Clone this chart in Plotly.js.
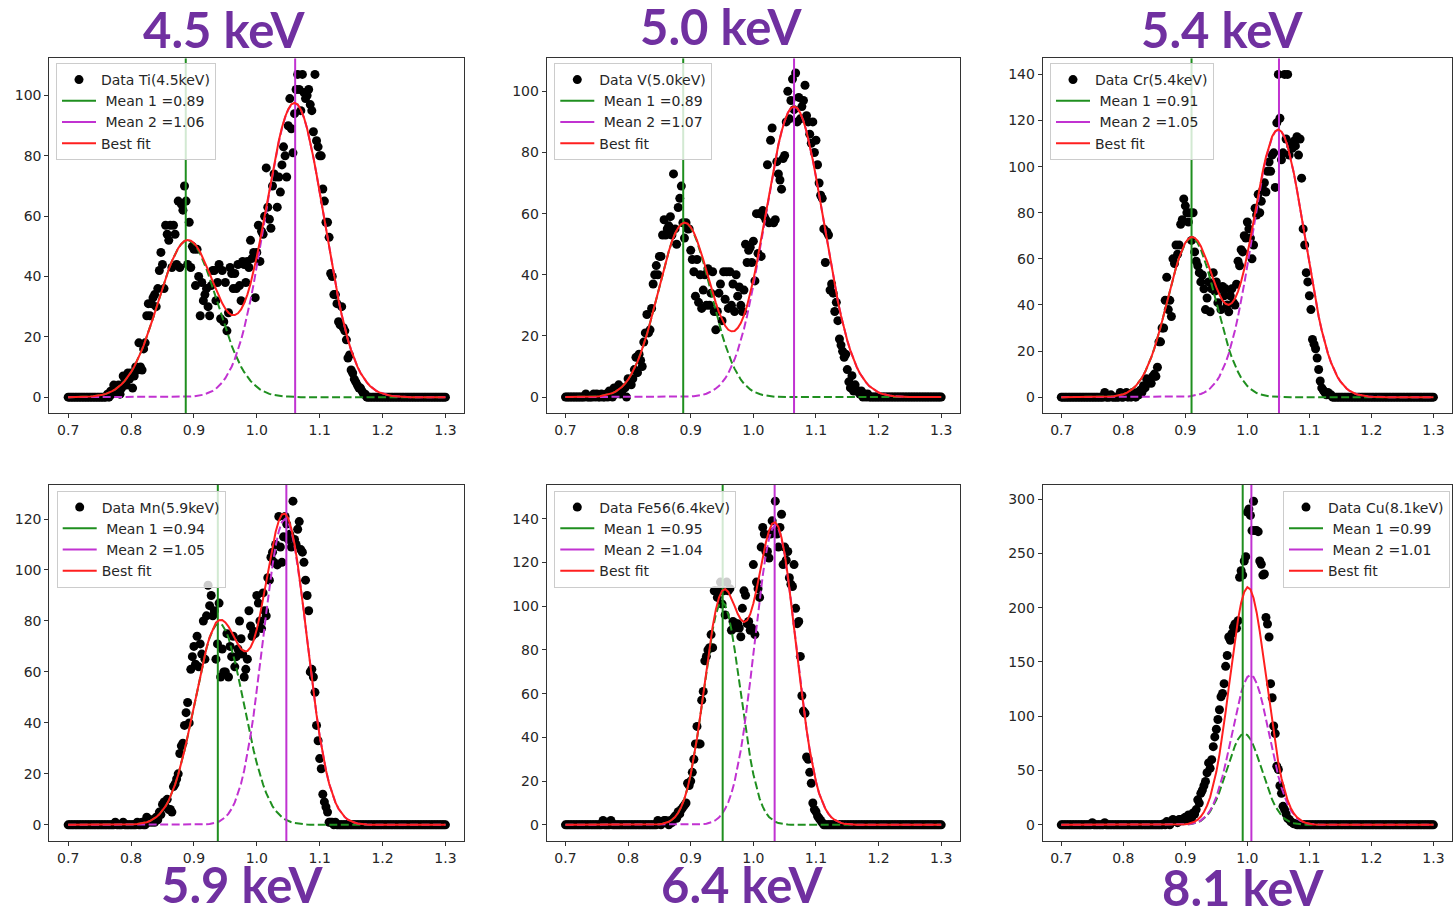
<!DOCTYPE html>
<html>
<head>
<meta charset="utf-8">
<script src="https://cdn.plot.ly/plotly-3.0.1.min.js"></script>
<style>html,body{margin:0;padding:0;background:#fff}#chart{width:1453px;height:909px}</style>
</head>
<body>
<div id="chart"></div>
<script>
// ---------- DATA ----------
const energyBins = [
0.7,0.7025,0.705,0.7075,0.71,0.7125,0.715,0.7175,0.72,0.7225,0.725,0.7275,0.73,0.7325,0.735,0.7375,0.74,0.7425,0.745,0.7475,
0.75,0.7525,0.755,0.7575,0.76,0.7625,0.765,0.7675,0.77,0.7725,0.775,0.7775,0.78,0.7825,0.785,0.7875,0.79,0.7925,0.795,0.7975,
0.8,0.8025,0.805,0.8075,0.81,0.8125,0.815,0.8175,0.82,0.8225,0.825,0.8275,0.83,0.8325,0.835,0.8375,0.84,0.8425,0.845,0.8475,
0.85,0.8525,0.855,0.8575,0.86,0.8625,0.865,0.8675,0.87,0.8725,0.875,0.8775,0.88,0.8825,0.885,0.8875,0.89,0.8925,0.895,0.8975,
0.9,0.9025,0.905,0.9075,0.91,0.9125,0.915,0.9175,0.92,0.9225,0.925,0.9275,0.93,0.9325,0.935,0.9375,0.94,0.9425,0.945,0.9475,
0.95,0.9525,0.955,0.9575,0.96,0.9625,0.965,0.9675,0.97,0.9725,0.975,0.9775,0.98,0.9825,0.985,0.9875,0.99,0.9925,0.995,0.9975,
1,1.0025,1.005,1.0075,1.01,1.0125,1.015,1.0175,1.02,1.0225,1.025,1.0275,1.03,1.0325,1.035,1.0375,1.04,1.0425,1.045,1.0475,
1.05,1.0525,1.055,1.0575,1.06,1.0625,1.065,1.0675,1.07,1.0725,1.075,1.0775,1.08,1.0825,1.085,1.0875,1.09,1.0925,1.095,1.0975,
1.1,1.1025,1.105,1.1075,1.11,1.1125,1.115,1.1175,1.12,1.1225,1.125,1.1275,1.13,1.1325,1.135,1.1375,1.14,1.1425,1.145,1.1475,
1.15,1.1525,1.155,1.1575,1.16,1.1625,1.165,1.1675,1.17,1.1725,1.175,1.1775,1.18,1.1825,1.185,1.1875,1.19,1.1925,1.195,1.1975,
1.2,1.2025,1.205,1.2075,1.21,1.2125,1.215,1.2175,1.22,1.2225,1.225,1.2275,1.23,1.2325,1.235,1.2375,1.24,1.2425,1.245,1.2475,
1.25,1.2525,1.255,1.2575,1.26,1.2625,1.265,1.2675,1.27,1.2725,1.275,1.2775,1.28,1.2825,1.285,1.2875,1.29,1.2925,1.295,1.2975,
1.3];

const fitEnergy = [
0.7,0.705,0.71,0.715,0.72,0.725,0.73,0.735,0.74,0.745,
0.75,0.755,0.76,0.765,0.77,0.775,0.78,0.785,0.79,0.795,
0.8,0.805,0.81,0.815,0.82,0.825,0.83,0.835,0.84,0.845,
0.85,0.855,0.86,0.865,0.87,0.875,0.88,0.885,0.89,0.895,
0.9,0.905,0.91,0.915,0.92,0.925,0.93,0.935,0.94,0.945,
0.95,0.955,0.96,0.965,0.97,0.975,0.98,0.985,0.99,0.995,
1,1.005,1.01,1.015,1.02,1.025,1.03,1.035,1.04,1.045,
1.05,1.055,1.06,1.065,1.07,1.075,1.08,1.085,1.09,1.095,
1.1,1.105,1.11,1.115,1.12,1.125,1.13,1.135,1.14,1.145,
1.15,1.155,1.16,1.165,1.17,1.175,1.18,1.185,1.19,1.195,
1.2,1.205,1.21,1.215,1.22,1.225,1.23,1.235,1.24,1.245,
1.25,1.255,1.26,1.265,1.27,1.275,1.28,1.285,1.29,1.295,
1.3];

// measured counts (one per energy bin)
const countsTi = [
0,0,0,0,0,0,0,0,0,0,0,0,0,0,0,0,0,0,0,0,
0,0,0,0,0,1,0,2,1,4,3,2,4,1,3,7,5,4,8,6,
8,3,7,10,9,18,10,9,16,18,27,31,27,31,33,34,30,36,42,48,
44,36,57,54,52,57,43,57,54,44,65,43,64,62,70,65,44,58,43,50,
49,37,49,40,27,38,32,34,36,30,27,37,42,42,32,38,44,26,42,25,
38,22,28,43,41,36,41,36,44,37,32,45,44,38,45,43,52,46,48,33,
48,57,45,55,54,60,76,63,59,56,70,74,73,63,73,68,77,83,80,73,
90,99,89,81,94,102,107,102,95,107,101,99,100,102,97,95,88,107,85,83,
80,80,69,65,58,58,53,41,40,34,34,31,25,24,30,23,22,19,13,14,
9,8,6,5,4,3,3,2,1,1,0,0,0,0,0,0,0,0,0,0,
0,0,0,0,0,0,0,0,0,0,0,0,0,0,0,0,0,0,0,0,
0,0,0,0,0,0,0,0,0,0,0,0,0,0,0,0,0,0,0,0,
0];
const countsV = [
0,0,0,0,0,0,0,0,0,0,0,0,0,1,0,0,0,0,1,0,
1,0,0,1,0,0,1,0,2,1,0,3,1,2,4,1,2,3,3,0,
6,5,4,6,9,13,8,14,12,10,18,21,27,21,22,29,37,40,43,40,
46,46,53,58,53,55,56,59,53,73,55,50,62,65,69,57,52,57,55,55,
48,45,41,33,45,31,40,29,35,40,30,42,30,34,41,28,22,28,34,37,
25,41,32,41,29,41,30,37,28,40,33,36,30,28,35,50,44,48,49,44,
51,38,60,47,60,46,61,59,58,76,57,84,88,57,58,77,73,71,68,78,
79,90,100,91,97,104,94,106,90,98,91,95,97,102,92,90,86,83,90,80,
84,76,70,66,65,55,44,54,53,35,37,34,28,31,25,19,17,15,13,14,
9,5,3,7,2,4,2,2,1,2,0,1,0,1,0,0,0,0,0,0,
0,0,0,0,0,0,0,0,0,0,0,0,0,0,0,0,0,0,0,0,
0,0,0,0,0,0,0,0,0,0,0,0,0,0,0,0,0,0,0,0,
0];
const countsCr = [
0,0,0,0,0,0,0,0,0,0,0,0,0,0,0,0,0,0,0,0,
0,0,0,0,0,0,0,0,2,0,0,0,1,0,0,0,0,0,2,0,
0,1,2,0,1,0,2,1,0,2,1,3,2,5,4,8,6,7,6,9,
10,9,13,24,24,30,30,42,52,38,42,35,60,58,66,62,66,75,77,86,
83,80,76,80,68,80,63,59,57,54,50,53,47,38,43,50,37,47,54,46,
50,41,47,38,48,44,47,40,37,44,47,41,40,49,59,57,64,63,70,69,
76,73,69,60,66,82,79,88,80,85,90,93,89,98,102,98,105,106,91,119,
140,121,103,106,140,112,140,105,109,108,111,109,113,105,112,95,73,66,54,50,
44,38,25,23,21,17,12,7,4,3,2,1,2,1,1,0,0,0,0,0,
0,0,0,0,0,0,0,0,0,0,0,0,0,0,0,0,0,0,0,0,
0,0,0,0,0,0,0,0,0,0,0,0,0,0,0,0,0,0,0,0,
0,0,0,0,0,0,0,0,0,0,0,0,0,0,0,0,0,0,0,0,
0];
const countsMn = [
0,0,0,0,0,0,0,0,0,0,0,0,0,0,0,0,0,0,0,0,
0,0,0,0,0,0,0,0,0,0,1,0,0,0,0,1,0,0,0,0,
0,0,0,0,1,0,0,1,0,0,3,1,2,1,2,1,3,2,5,4,
8,9,7,10,6,6,5,15,16,18,20,28,31,32,39,44,48,40,61,66,
70,63,74,62,71,67,80,65,82,94,86,90,82,84,65,71,87,58,69,60,
60,75,58,70,66,74,62,66,69,80,73,67,58,61,65,84,78,74,76,75,
90,87,80,77,91,84,82,97,96,105,107,103,110,102,121,109,103,113,121,118,
112,114,109,127,112,110,116,119,108,107,103,96,90,84,60,61,58,52,39,33,
26,22,12,9,7,5,1,1,1,0,1,0,0,0,0,0,0,0,0,0,
0,0,0,0,0,0,0,0,0,0,0,0,0,0,0,0,0,0,0,0,
0,0,0,0,0,0,0,0,0,0,0,0,0,0,0,0,0,0,0,0,
0,0,0,0,0,0,0,0,0,0,0,0,0,0,0,0,0,0,0,0,
0];
const countsFe = [
0,0,0,0,0,0,0,0,0,0,0,0,0,0,0,0,0,0,0,0,
0,0,0,0,2,0,0,0,0,2,0,0,0,0,0,0,0,0,0,0,
0,0,0,0,0,0,0,0,0,0,0,0,0,0,0,0,0,0,0,2,
1,0,1,2,2,1,0,2,1,3,4,3,6,5,7,8,9,10,19,18,
20,24,30,37,45,37,37,57,61,75,77,80,81,87,81,107,107,104,107,111,
101,107,96,111,107,108,89,93,90,92,92,90,86,99,107,105,92,93,89,90,
119,87,111,108,104,127,136,133,125,125,122,133,139,134,148,133,127,136,142,119,
127,121,125,113,110,109,119,99,92,93,77,59,52,51,31,30,24,19,10,7,
6,4,3,2,1,0,0,0,0,0,0,0,0,0,0,0,0,0,0,0,
0,0,0,0,0,0,0,0,0,0,0,0,0,0,0,0,0,0,0,0,
0,0,0,0,0,0,0,0,0,0,0,0,0,0,0,0,0,0,0,0,
0,0,0,0,0,0,0,0,0,0,0,0,0,0,0,0,0,0,0,0,
0];
const countsCu = [
0,0,0,0,0,0,0,0,0,0,0,0,0,0,0,0,0,0,0,0,
2,0,0,0,0,0,0,0,2,0,0,0,0,0,0,0,0,0,0,0,
0,0,0,0,0,0,0,0,0,0,0,0,0,0,0,0,0,0,0,0,
0,0,0,0,0,0,1,0,3,2,0,3,5,4,3,2,5,5,4,6,
7,5,9,8,6,11,10,14,23,20,29,32,36,40,48,57,52,60,72,81,
88,97,106,118,121,130,146,156,173,170,176,182,185,181,188,228,234,230,243,247,
288,291,285,271,298,271,271,270,243,240,230,231,191,185,173,130,117,91,84,54,
51,36,29,17,14,10,6,5,3,2,1,1,0,0,0,0,0,0,0,0,
0,0,0,0,0,0,0,0,0,0,0,0,0,0,0,0,0,0,0,0,
0,0,0,0,0,0,0,0,0,0,0,0,0,0,0,0,0,0,0,0,
0,0,0,0,0,0,0,0,0,0,0,0,0,0,0,0,0,0,0,0,
0,0,0,0,0,0,0,0,0,0,0,0,0,0,0,0,0,0,0,0,
0];

// fitted components (one per fitEnergy point)
const peak1Ti = [
0,0,0,0,0.1,0.1,0.2,0.2,0.3,0.4, 0.6,0.8,1.1,1.5,2,2.6,3.4,4.3,5.4,6.7,
8.3,10.1,12.2,14.6,17.1,20,23,26.2,29.5,32.9, 36.2,39.4,42.4,45.1,47.5,49.4,50.8,51.7,52,51.7,
50.8,49.4,47.5,45.1,42.4,39.4,36.2,32.9,29.5,26.2, 23,20,17.1,14.6,12.2,10.1,8.3,6.7,5.4,4.3,
3.4,2.6,2,1.5,1.1,0.8,0.6,0.4,0.3,0.2, 0.2,0.1,0.1,0,0,0,0,0,0,0,
0,0,0,0,0,0,0,0,0,0, 0,0,0,0,0,0,0,0,0,0, 0,0,0,0,0,0,0,0,0,0, 0,0,0,0,0,0,0,0,0,0, 0];
const peak2Ti = [
0,0,0,0,0,0,0,0,0,0, 0,0,0,0,0,0,0,0,0,0, 0,0,0,0,0,0,0,0,0,0,
0,0,0,0,0,0,0,0.1,0.1,0.2, 0.3,0.4,0.6,0.8,1.2,1.6,2.1,2.8,3.7,4.9,
6.3,8,10.1,12.6,15.6,19,22.9,27.3,32.2,37.5, 43.2,49.2,55.4,61.6,67.9,73.9,79.5,84.6,89.1,92.7,
95.3,97,97.5,97,95.3,92.7,89.1,84.6,79.5,73.9, 67.9,61.6,55.4,49.2,43.2,37.5,32.2,27.3,22.9,19,
15.6,12.6,10.1,8,6.3,4.9,3.7,2.8,2.1,1.6, 1.2,0.8,0.6,0.4,0.3,0.2,0.1,0.1,0,0,
0,0,0,0,0,0,0,0,0,0, 0];
const bestFitTi = [
0,0,0,0,0.1,0.1,0.2,0.2,0.3,0.4, 0.6,0.8,1.1,1.5,2,2.6,3.4,4.3,5.4,6.7,
8.3,10.1,12.2,14.6,17.1,20,23,26.2,29.5,32.9, 36.2,39.4,42.4,45.1,47.5,49.4,50.8,51.8,52.1,51.9,
51.1,49.8,48.1,45.9,43.6,41,38.3,35.7,33.2,31.1, 29.3,28,27.2,27.2,27.8,29.1,31.2,34,37.6,41.8,
46.6,51.8,57.4,63.1,69,74.7,80.1,85,89.4,92.9, 95.5,97.1,97.6,97,95.3,92.7,89.1,84.6,79.5,73.9,
67.9,61.6,55.4,49.2,43.2,37.5,32.2,27.3,22.9,19, 15.6,12.6,10.1,8,6.3,4.9,3.7,2.8,2.1,1.6,
1.2,0.8,0.6,0.4,0.3,0.2,0.1,0.1,0,0, 0,0,0,0,0,0,0,0,0,0, 0];

const peak1V = [
0,0,0,0,0,0,0,0,0.1,0.1, 0.2,0.3,0.5,0.7,1,1.3,1.8,2.5,3.3,4.4,
5.7,7.4,9.3,11.6,14.2,17.2,20.5,24.2,28.1,32.1, 36.2,40.3,44.2,47.7,50.9,53.5,55.4,56.6,57,56.6,
55.4,53.5,50.9,47.7,44.2,40.3,36.2,32.1,28.1,24.2, 20.5,17.2,14.2,11.6,9.3,7.4,5.7,4.4,3.3,2.5,
1.8,1.3,1,0.7,0.5,0.3,0.2,0.1,0.1,0, 0,0,0,0,0,0,0,0,0,0,
0,0,0,0,0,0,0,0,0,0, 0,0,0,0,0,0,0,0,0,0, 0,0,0,0,0,0,0,0,0,0, 0,0,0,0,0,0,0,0,0,0, 0];
const peak2V = [
0,0,0,0,0,0,0,0,0,0, 0,0,0,0,0,0,0,0,0,0, 0,0,0,0,0,0,0,0,0,0,
0,0,0,0,0,0,0,0,0.1,0.1, 0.2,0.3,0.4,0.6,0.8,1.1,1.5,2.1,2.8,3.6,
4.8,6.1,7.8,9.9,12.3,15.2,18.5,22.3,26.6,31.3, 36.5,42.1,47.9,53.9,60.1,66.1,72,77.5,82.5,86.8,
90.3,92.9,94.5,95,94.5,92.9,90.3,86.8,82.5,77.5, 72,66.1,60.1,53.9,47.9,42.1,36.5,31.3,26.6,22.3,
18.5,15.2,12.3,9.9,7.8,6.1,4.8,3.6,2.8,2.1, 1.5,1.1,0.8,0.6,0.4,0.3,0.2,0.1,0.1,0,
0,0,0,0,0,0,0,0,0,0, 0];
const bestFitV = [
0,0,0,0,0,0,0,0,0.1,0.1, 0.2,0.3,0.5,0.7,1,1.3,1.8,2.5,3.3,4.4,
5.7,7.4,9.3,11.6,14.2,17.2,20.5,24.2,28.1,32.1, 36.2,40.3,44.2,47.7,50.9,53.5,55.4,56.6,57.1,56.7,
55.6,53.8,51.3,48.3,45,41.4,37.7,34.2,30.9,27.8, 25.3,23.3,22,21.5,21.6,22.6,24.2,26.7,29.9,33.8,
38.3,43.4,48.9,54.6,60.6,66.4,72.2,77.6,82.6,86.8, 90.3,92.9,94.5,95,94.5,92.9,90.3,86.8,82.5,77.5,
72,66.1,60.1,53.9,47.9,42.1,36.5,31.3,26.6,22.3, 18.5,15.2,12.3,9.9,7.8,6.1,4.8,3.6,2.8,2.1,
1.5,1.1,0.8,0.6,0.4,0.3,0.2,0.1,0.1,0, 0,0,0,0,0,0,0,0,0,0, 0];

const peak1Cr = [
0,0,0,0,0,0,0,0,0,0, 0,0,0,0,0.1,0.2,0.3,0.4,0.6,0.9,
1.3,1.8,2.6,3.6,4.8,6.4,8.4,10.9,13.8,17.2, 21.1,25.5,30.3,35.5,40.8,46.1,51.3,56.2,60.5,64.1,
66.8,68.4,69,68.4,66.8,64.1,60.5,56.2,51.3,46.1, 40.8,35.5,30.3,25.5,21.1,17.2,13.8,10.9,8.4,6.4,
4.8,3.6,2.6,1.8,1.3,0.9,0.6,0.4,0.3,0.2, 0.1,0,0,0,0,0,0,0,0,0,
0,0,0,0,0,0,0,0,0,0, 0,0,0,0,0,0,0,0,0,0, 0,0,0,0,0,0,0,0,0,0, 0,0,0,0,0,0,0,0,0,0, 0];
const peak2Cr = [
0,0,0,0,0,0,0,0,0,0, 0,0,0,0,0,0,0,0,0,0, 0,0,0,0,0,0,0,0,0,0,
0,0,0,0,0,0,0,0,0.1,0.1, 0.2,0.3,0.5,0.7,1,1.4,2,2.7,3.8,5.1,
6.8,9,11.7,15,18.9,23.6,28.9,35,41.8,49.2, 57.1,65.3,73.7,82,89.9,97.2,103.6,108.8,112.8,115.2,
116,115.2,112.8,108.8,103.6,97.2,89.9,82,73.7,65.3, 57.1,49.2,41.8,35,28.9,23.6,18.9,15,11.7,9,
6.8,5.1,3.8,2.7,2,1.4,1,0.7,0.5,0.3, 0.2,0.1,0.1,0,0,0,0,0,0,0,
0,0,0,0,0,0,0,0,0,0, 0];
const bestFitCr = [
0,0,0,0,0,0,0,0,0,0, 0,0,0,0,0.1,0.2,0.3,0.4,0.6,0.9,
1.3,1.8,2.6,3.6,4.8,6.4,8.4,10.9,13.8,17.2, 21.1,25.5,30.3,35.5,40.8,46.1,51.3,56.2,60.6,64.2,
67,68.7,69.5,69.1,67.8,65.5,62.5,58.9,55.1,51.2, 47.6,44.5,42,40.5,40,40.8,42.7,45.9,50.2,55.6,
61.9,68.9,76.3,83.8,91.2,98.1,104.2,109.2,113.1,115.4, 116.1,115.2,112.8,108.8,103.6,97.2,89.9,82,73.7,65.3,
57.1,49.2,41.8,35,28.9,23.6,18.9,15,11.7,9, 6.8,5.1,3.8,2.7,2,1.4,1,0.7,0.5,0.3,
0.2,0.1,0.1,0,0,0,0,0,0,0, 0,0,0,0,0,0,0,0,0,0, 0];

const peak1Mn = [
0,0,0,0,0,0,0,0,0,0, 0,0,0,0,0,0,0,0,0,0,
0.1,0.2,0.3,0.5,0.7,1,1.5,2.1,3,4.1, 5.5,7.3,9.6,12.4,15.8,19.7,24.2,29.2,34.7,40.6,
46.7,52.8,58.8,64.3,69.3,73.4,76.4,78.4,79,78.4, 76.4,73.4,69.3,64.3,58.8,52.8,46.7,40.6,34.7,29.2,
24.2,19.7,15.8,12.4,9.6,7.3,5.5,4.1,3,2.1, 1.5,1,0.7,0.5,0.3,0.2,0.1,0,0,0,
0,0,0,0,0,0,0,0,0,0, 0,0,0,0,0,0,0,0,0,0, 0,0,0,0,0,0,0,0,0,0, 0,0,0,0,0,0,0,0,0,0, 0];
const peak2Mn = [
0,0,0,0,0,0,0,0,0,0, 0,0,0,0,0,0,0,0,0,0, 0,0,0,0,0,0,0,0,0,0, 0,0,0,0,0,0,0,0,0,0,
0,0,0,0.1,0.2,0.3,0.5,0.9,1.3,2, 3,4.4,6.3,8.8,12.1,16.2,21.4,27.6,34.9,43.2,
52.5,62.5,72.8,83.1,93,101.9,109.5,115.2,118.8,120, 118.8,115.2,109.5,101.9,93,83.1,72.8,62.5,52.5,43.2,
34.9,27.6,21.4,16.2,12.1,8.8,6.3,4.4,3,2, 1.3,0.9,0.5,0.3,0.2,0.1,0,0,0,0,
0,0,0,0,0,0,0,0,0,0, 0,0,0,0,0,0,0,0,0,0, 0];
const bestFitMn = [
0,0,0,0,0,0,0,0,0,0, 0,0,0,0,0,0,0,0,0,0,
0.1,0.2,0.3,0.5,0.7,1,1.5,2.1,3,4.1, 5.5,7.3,9.6,12.4,15.8,19.7,24.2,29.2,34.7,40.6,
46.7,52.8,58.8,64.4,69.5,73.7,76.9,79.3,80.3,80.4, 79.4,77.8,75.6,73.1,70.9,69,68.1,68.2,69.6,72.4,
76.7,82.2,88.6,95.5,102.6,109.2,115,119.3,121.8,122.1, 120.3,116.2,110.2,102.4,93.3,83.3,72.9,62.5,52.5,43.2,
34.9,27.6,21.4,16.2,12.1,8.8,6.3,4.4,3,2, 1.3,0.9,0.5,0.3,0.2,0.1,0,0,0,0,
0,0,0,0,0,0,0,0,0,0, 0,0,0,0,0,0,0,0,0,0, 0];

const peak1Fe = [
0,0,0,0,0,0,0,0,0,0, 0,0,0,0,0,0,0,0,0,0,
0,0,0,0,0,0,0,0,0,0.1, 0.3,0.5,0.8,1.4,2.3,3.6,5.5,8.3,12,16.9,
23.1,30.6,39.4,49.2,59.7,70.3,80.4,89.2,96.1,100.5, 102,100.5,96.1,89.2,80.4,70.3,59.7,49.2,39.4,30.6,
23.1,16.9,12,8.3,5.5,3.6,2.3,1.4,0.8,0.5, 0.3,0.1,0,0,0,0,0,0,0,0,
0,0,0,0,0,0,0,0,0,0, 0,0,0,0,0,0,0,0,0,0, 0,0,0,0,0,0,0,0,0,0, 0,0,0,0,0,0,0,0,0,0, 0];
const peak2Fe = [
0,0,0,0,0,0,0,0,0,0, 0,0,0,0,0,0,0,0,0,0, 0,0,0,0,0,0,0,0,0,0, 0,0,0,0,0,0,0,0,0,0,
0,0,0.1,0.2,0.3,0.5,0.9,1.4,2.2,3.3, 5,7.3,10.4,14.4,19.7,26.2,34.2,43.5,54.1,65.7,
78.1,90.6,102.8,114,123.6,130.8,135.4,137,135.4,130.8, 123.6,114,102.8,90.6,78.1,65.7,54.1,43.5,34.2,26.2,
19.7,14.4,10.4,7.3,5,3.3,2.2,1.4,0.9,0.5, 0.3,0.2,0.1,0,0,0,0,0,0,0,
0,0,0,0,0,0,0,0,0,0, 0,0,0,0,0,0,0,0,0,0, 0];
const bestFitFe = [
0,0,0,0,0,0,0,0,0,0, 0,0,0,0,0,0,0,0,0,0,
0,0,0,0,0,0,0,0,0,0.1, 0.3,0.5,0.8,1.4,2.3,3.6,5.5,8.3,12,16.9,
23.1,30.6,39.5,49.4,60,70.8,81.3,90.6,98.3,103.8, 107,107.8,106.5,103.6,100.1,96.5,93.9,92.7,93.5,96.3,
101.2,107.5,114.8,122.3,129.1,134.4,137.7,138.4,136.2,131.3, 123.9,114.1,102.8,90.6,78.1,65.7,54.1,43.5,34.2,26.2,
19.7,14.4,10.4,7.3,5,3.3,2.2,1.4,0.9,0.5, 0.3,0.2,0.1,0,0,0,0,0,0,0,
0,0,0,0,0,0,0,0,0,0, 0,0,0,0,0,0,0,0,0,0, 0];

const peak1Cu = [
0,0,0,0,0,0,0,0,0,0, 0,0,0,0,0,0,0,0,0,0, 0,0,0,0,0,0,0,0,0,0,
0,0,0,0,0,0,0,0,0,0.1, 0.3,0.5,0.8,1.4,2.3,3.7,5.7,8.5,12.2,17.1,
23.1,30.3,38.5,47.3,56.4,65.1,72.8,78.8,82.7,84, 82.7,78.8,72.8,65.1,56.4,47.3,38.5,30.3,23.1,17.1,
12.2,8.5,5.7,3.7,2.3,1.4,0.8,0.5,0.3,0.1, 0,0,0,0,0,0,0,0,0,0,
0,0,0,0,0,0,0,0,0,0, 0,0,0,0,0,0,0,0,0,0, 0,0,0,0,0,0,0,0,0,0, 0];
const peak2Cu = [
0,0,0,0,0,0,0,0,0,0, 0,0,0,0,0,0,0,0,0,0, 0,0,0,0,0,0,0,0,0,0,
0,0,0,0,0,0,0,0,0.1,0.2, 0.3,0.5,0.9,1.5,2.5,3.9,6.1,9.1,13.2,18.7,
25.7,34.4,44.8,56.7,69.9,83.7,97.5,110.5,121.8,130.5, 136.1,138,136.1,130.5,121.8,110.5,97.5,83.7,69.9,56.7,
44.8,34.4,25.7,18.7,13.2,9.1,6.1,3.9,2.5,1.5, 0.9,0.5,0.3,0.2,0.1,0,0,0,0,0,
0,0,0,0,0,0,0,0,0,0, 0,0,0,0,0,0,0,0,0,0, 0,0,0,0,0,0,0,0,0,0, 0];
const bestFitCu = [
0,0,0,0,0,0,0,0,0,0, 0,0,0,0,0,0,0,0,0,0, 0,0,0,0,0,0,0,0,0,0,
0,0,0,0,0,0,0,0,0.1,0.3, 0.6,1,1.7,2.9,4.8,7.6,11.8,17.6,25.4,35.8,
48.8,64.7,83.3,104,126.3,148.8,170.3,189.3,204.5,214.5, 218.8,216.8,208.9,195.6,178.2,157.8,136,114,93,73.8,
57,42.9,31.4,22.4,15.5,10.5,6.9,4.4,2.8,1.6, 0.9,0.5,0.3,0.2,0.1,0,0,0,0,0,
0,0,0,0,0,0,0,0,0,0, 0,0,0,0,0,0,0,0,0,0, 0,0,0,0,0,0,0,0,0,0, 0];

// fitted means (vertical lines)
const mean1Values = [0.887, 0.888, 0.910, 0.938, 0.951, 0.9925];
const mean2Values = [1.061, 1.065, 1.051, 1.047, 1.034, 1.0065];

// text
const dataLabels = ['Data Ti(4.5keV)', 'Data V(5.0keV)', 'Data Cr(5.4keV)', 'Data Mn(5.9keV)', 'Data Fe56(6.4keV)', 'Data Cu(8.1keV)'];
const mean1Labels = ['\u00a0Mean 1 =0.89', '\u00a0Mean 1 =0.89', '\u00a0Mean 1 =0.91', '\u00a0Mean 1 =0.94', '\u00a0Mean 1 =0.95', '\u00a0Mean 1 =0.99'];
const mean2Labels = ['\u00a0Mean 2 =1.06', '\u00a0Mean 2 =1.07', '\u00a0Mean 2 =1.05', '\u00a0Mean 2 =1.05', '\u00a0Mean 2 =1.04', '\u00a0Mean 2 =1.01'];
const fitLabel = 'Best fit';
const panelTitles = ['4.5 keV', '5.0 keV', '5.4 keV', '5.9 keV', '6.4 keV', '8.1 keV'];
const xTickValues = [0.7, 0.8, 0.9, 1.0, 1.1, 1.2, 1.3];

// ---------- LAYOUT / STYLE ----------
const W = 1453, H = 909;
const GREEN = '#1f8f1f', MAGENTA = '#c132d1', RED = '#ff1f1f';
const countsList = [countsTi, countsV, countsCr, countsMn, countsFe, countsCu];
const peak1List = [peak1Ti, peak1V, peak1Cr, peak1Mn, peak1Fe, peak1Cu];
const peak2List = [peak2Ti, peak2V, peak2Cr, peak2Mn, peak2Fe, peak2Cu];
const fitList = [bestFitTi, bestFitV, bestFitCr, bestFitMn, bestFitFe, bestFitCu];

const xDomains = [[49.3 / W, 464.3 / W], [546.7 / W, 960 / W], [1042.7 / W, 1452 / W]];
const yDomains = [[1 - 413.3 / H, 1 - 58.3 / H], [1 - 841 / H, 1 - 485 / H]];
const yRanges = [[-5.35, 112.35], [-5.3, 110.8], [-7, 147], [-6.35, 133.35], [-7.4, 155.4], [-14.9, 313]];
const yDticks = [20, 20, 20, 20, 20, 50];
const legendPos = [
  {x: 56 / W, y: 1 - 63 / H, xanchor: 'left'},
  {x: 554.3 / W, y: 1 - 63 / H, xanchor: 'left'},
  {x: 1050 / W, y: 1 - 63 / H, xanchor: 'left'},
  {x: 56.7 / W, y: 1 - 490.5 / H, xanchor: 'left'},
  {x: 554.3 / W, y: 1 - 490.5 / H, xanchor: 'left'},
  {x: 1450 / W, y: 1 - 490.5 / H, xanchor: 'right'}
];
const titlePos = [[224, 29], [721, 26], [1222, 29], [242.5, 884], [742.5, 884], [1243, 887]];

const traces = [];
const layout = {
  width: W, height: H,
  margin: {l: 0, r: 0, t: 0, b: 0},
  paper_bgcolor: '#ffffff', plot_bgcolor: '#ffffff',
  font: {family: 'DejaVu Sans, sans-serif', size: 14, color: '#262626'},
  showlegend: true,
  hovermode: false,
  annotations: []
};

for (let i = 0; i < 6; i++) {
  const s = i === 0 ? '' : String(i + 1);
  const xa = 'x' + s, ya = 'y' + s;
  const leg = 'legend' + s;
  const col = i % 3, row = Math.floor(i / 3);

  traces.push({
    type: 'scatter', mode: 'markers', x: energyBins, y: countsList[i],
    xaxis: xa, yaxis: ya, legend: leg, name: dataLabels[i],
    marker: {color: '#000000', size: 9, line: {width: 0}}
  });
  traces.push({
    type: 'scatter', mode: 'lines', x: fitEnergy, y: peak1List[i],
    xaxis: xa, yaxis: ya, legend: leg, showlegend: false,
    line: {color: GREEN, width: 2, dash: '8px,3.5px'}
  });
  traces.push({
    type: 'scatter', mode: 'lines', x: fitEnergy, y: peak2List[i],
    xaxis: xa, yaxis: ya, legend: leg, showlegend: false,
    line: {color: MAGENTA, width: 2, dash: '8px,3.5px'}
  });
  traces.push({
    type: 'scatter', mode: 'lines', x: [mean1Values[i], mean1Values[i]], y: yRanges[i],
    xaxis: xa, yaxis: ya, legend: leg, name: mean1Labels[i],
    line: {color: GREEN, width: 2}
  });
  traces.push({
    type: 'scatter', mode: 'lines', x: [mean2Values[i], mean2Values[i]], y: yRanges[i],
    xaxis: xa, yaxis: ya, legend: leg, name: mean2Labels[i],
    line: {color: MAGENTA, width: 2}
  });
  traces.push({
    type: 'scatter', mode: 'lines', x: fitEnergy, y: fitList[i],
    xaxis: xa, yaxis: ya, legend: leg, name: fitLabel,
    line: {color: RED, width: 2}
  });

  const axisCommon = {
    showline: true, mirror: true, linecolor: '#333333', linewidth: 1,
    ticks: 'outside', ticklen: 4, tickwidth: 1, tickcolor: '#333333',
    showgrid: false, zeroline: false, fixedrange: true,
    tickfont: {family: 'DejaVu Sans, sans-serif', size: 14, color: '#262626'}
  };
  layout['xaxis' + s] = Object.assign({}, axisCommon, {
    domain: xDomains[col], anchor: ya, range: [0.67, 1.33],
    tickmode: 'array', tickvals: xTickValues, tickformat: '.1f'
  });
  layout['yaxis' + s] = Object.assign({}, axisCommon, {
    domain: yDomains[row], anchor: xa, range: yRanges[i],
    tick0: 0, dtick: yDticks[i]
  });
  layout[leg] = {
    x: legendPos[i].x, y: legendPos[i].y, xanchor: legendPos[i].xanchor, yanchor: 'top',
    xref: 'paper', yref: 'paper',
    bgcolor: 'rgba(255,255,255,0.8)', bordercolor: '#cccccc', borderwidth: 1,
    font: {family: 'DejaVu Sans, sans-serif', size: 14, color: '#262626'},
    itemwidth: 34,
    traceorder: 'normal'
  };
  layout.annotations.push({
    text: '<b>' + panelTitles[i] + '</b>',
    xref: 'paper', yref: 'paper',
    x: titlePos[i][0] / W, y: 1 - titlePos[i][1] / H,
    xanchor: 'center', yanchor: 'middle', showarrow: false,
    font: {family: 'Lato, sans-serif', size: 49, color: '#7030a0'}
  });
}

Plotly.newPlot('chart', traces, layout, {displayModeBar: false, staticPlot: true});
</script>
</body>
</html>
